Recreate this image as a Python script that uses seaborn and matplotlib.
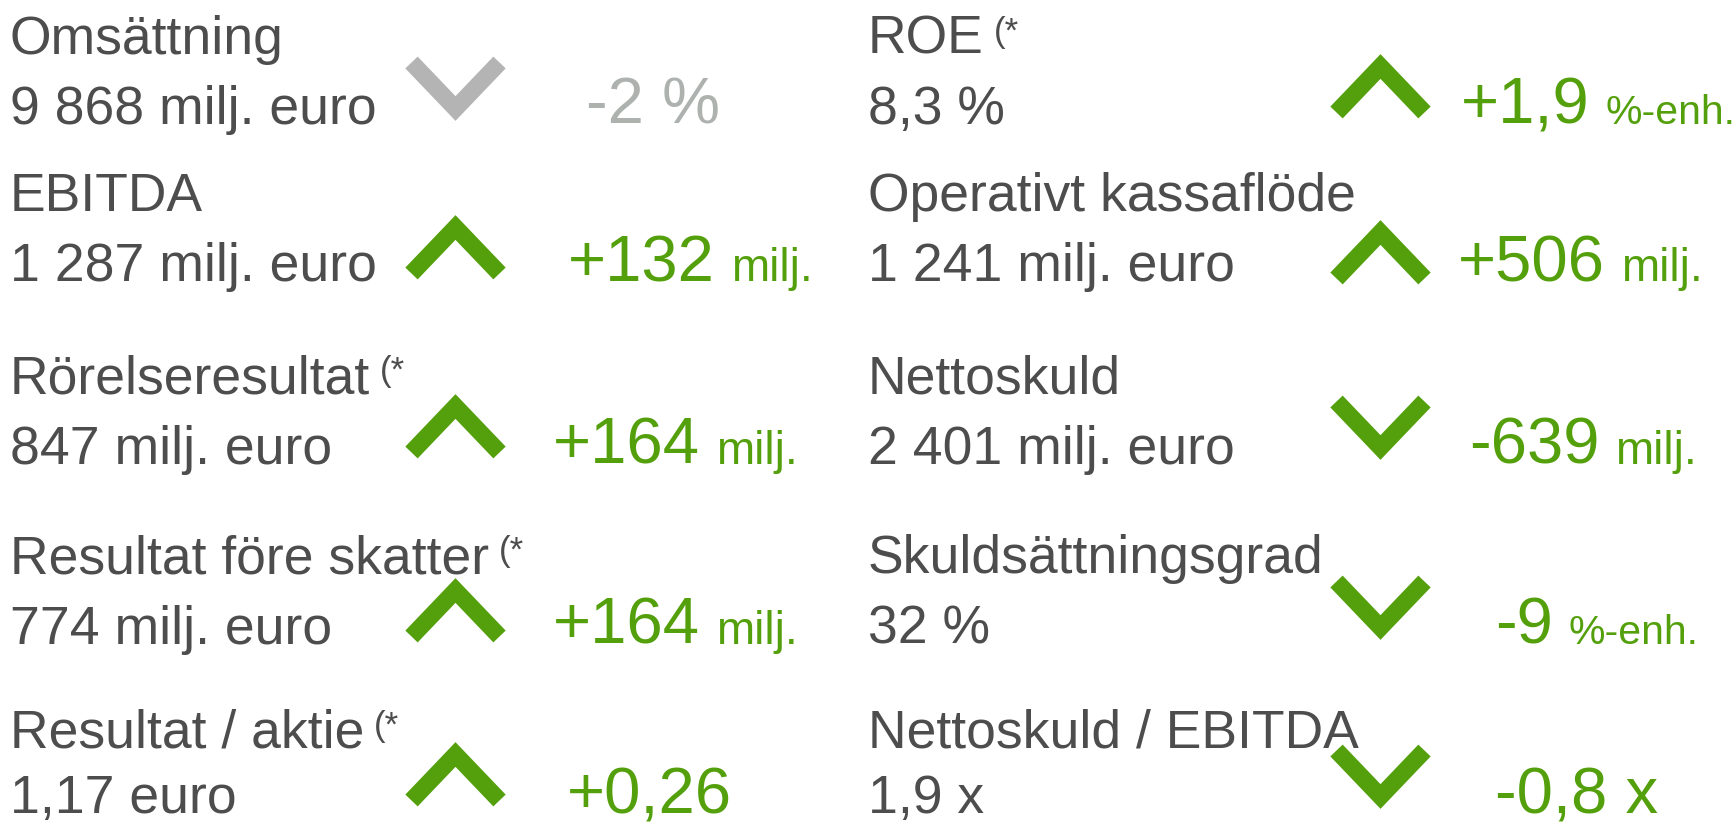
import matplotlib
matplotlib.use("Agg")
import matplotlib.pyplot as plt
import seaborn as sns

# KPI data, left column
labels_left = ["Omsättning", "EBITDA", "Rörelseresultat", "Resultat före skatter", "Resultat / aktie"]
star_left = [False, False, True, True, True]
values_left = ["9 868 milj. euro", "1 287 milj. euro", "847 milj. euro", "774 milj. euro", "1,17 euro"]
change_left = ["-2 %", "+132", "+164", "+164", "+0,26"]
unit_left = ["", "milj.", "milj.", "milj.", ""]
trend_left = ["down", "up", "up", "up", "up"]
status_left = ["neutral", "good", "good", "good", "good"]

# KPI data, right column
labels_right = ["ROE", "Operativt kassaflöde", "Nettoskuld", "Skuldsättningsgrad", "Nettoskuld / EBITDA"]
star_right = [True, False, False, False, False]
values_right = ["8,3 %", "1 241 milj. euro", "2 401 milj. euro", "32 %", "1,9 x"]
change_right = ["+1,9", "+506", "-639", "-9", "-0,8 x"]
unit_right = ["%-enh.", "milj.", "milj.", "%-enh.", ""]
trend_right = ["up", "up", "down", "down", "down"]
status_right = ["good", "good", "good", "good", "good"]

# layout (pixels, y measured from top)
label_y = [54, 211, 393, 573, 748]
value_y = [124, 281, 464, 644, 813]
chev_y_left = [89, 247, 426, 610, 774]
chev_y_right = [86, 252, 428, 608, 777]
change_x_left = [586, 568, 553, 553, 567]
change_x_right = [1461, 1458, 1469, 1495, 1495]

TEXT = "#4d4d4d"
GREEN = "#54a00c"
colors = {"good": (GREEN, GREEN), "neutral": ("#b4b4b4", "#adb2af")}
unit_size = {"milj.": 33, "%-enh.": 29.5}

sns.set_theme(style="white")
plt.rcParams["font.family"] = ["Liberation Sans", "DejaVu Sans"]

fig = plt.figure(figsize=(17.34, 8.27), dpi=100)
ax = fig.add_axes([0, 0, 1, 1])
ax.set_axis_off()
ax.set_xlim(0, 1734)
ax.set_ylim(827, 0)
renderer = fig.canvas.get_renderer()


def right_edge(t):
    bb = t.get_window_extent(renderer=renderer)
    return ax.transData.inverted().transform((bb.x1, bb.y1))[0]


def chevron(cx, cy, direction, color):
    a = 44
    if direction == "up":
        ys = [cy + 26.5, cy - 19.5, cy + 26.5]
    else:
        ys = [cy - 26.5, cy + 19.5, cy - 26.5]
    xs = [cx - a, cx, cx + a]
    sns.lineplot(x=xs, y=ys, sort=False, estimator=None, color=color, linewidth=12.3,
                 solid_joinstyle="miter", solid_capstyle="butt", ax=ax, legend=False)


def draw_column(x0, chev_x, chev_y, change_x, labels, stars, values, changes, units, trends, status):
    for i in range(len(labels)):
        lab = ax.text(x0, label_y[i], labels[i], fontsize=38.5, color=TEXT, va="baseline", ha="left")
        if stars[i]:
            x1 = right_edge(lab)
            ax.text(x1 + 10, label_y[i] - 38, "(*", fontsize=25, color=TEXT, va="top", ha="left")
        ax.text(x0, value_y[i], values[i], fontsize=38.5, color=TEXT, va="baseline", ha="left")
        chev_col, txt_col = colors[status[i]]
        chevron(chev_x, chev_y[i], trends[i], chev_col)
        ch = ax.text(change_x[i], value_y[i], changes[i], fontsize=47, color=txt_col,
                     va="baseline", ha="left")
        if units[i]:
            x1 = right_edge(ch)
            ax.text(x1 + 16, value_y[i], units[i], fontsize=unit_size[units[i]], color=txt_col,
                    va="baseline", ha="left")


draw_column(10, 455.5, chev_y_left, change_x_left, labels_left, star_left, values_left,
            change_left, unit_left, trend_left, status_left)
draw_column(868, 1380.5, chev_y_right, change_x_right, labels_right, star_right, values_right,
            change_right, unit_right, trend_right, status_right)

ax.set_xlim(0, 1734)
ax.set_ylim(827, 0)
fig.savefig("out.png", dpi=100)
